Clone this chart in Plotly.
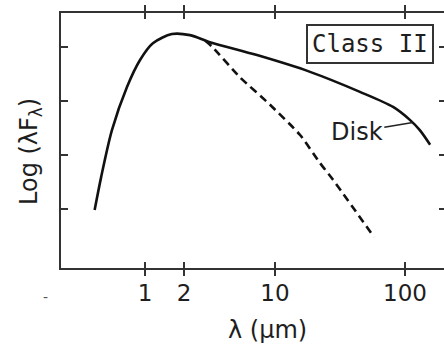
import plotly.graph_objects as go

# Spectral energy distribution of a Class II source (log lambda*F_lambda vs wavelength)
lam_total = [0.41, 0.46, 0.557, 0.727, 0.916, 1.15, 1.61, 2.22, 3.16, 7.27, 18.6, 45, 81, 109, 130, 156]
logf_total = [0.98, 1.59, 2.46, 3.26, 3.76, 4.07, 4.24, 4.22, 4.09, 3.85, 3.54, 3.17, 2.89, 2.65, 2.46, 2.19]

# Stellar photosphere alone (dashed)
lam_star = [2.9, 3.3, 5.38, 9.16, 15.6, 22.2, 27.4, 57.8]
logf_star = [4.12, 4.0, 3.44, 2.93, 2.37, 1.85, 1.57, 0.48]

x_tickvals = [1, 2, 10, 100]
x_ticktext = ["1", "2", "10", "100"]
y_tickvals = [1, 2, 3, 4]

x_range = [-0.646, 2.300]
y_range = [-0.093, 4.63]

ink = "#111111"
axis_col = "#333333"
text_col = "#1e1e1e"
font_main = "DejaVu Sans"

fig = go.Figure()
fig.add_trace(go.Scatter(
    x=lam_total, y=logf_total, mode="lines",
    line=dict(color=ink, width=2.6, shape="spline", smoothing=0.8),
    hoverinfo="skip", showlegend=False,
))
fig.add_trace(go.Scatter(
    x=lam_star, y=logf_star, mode="lines",
    line=dict(color=ink, width=2.6, dash="8px,5px", shape="spline", smoothing=0.6),
    hoverinfo="skip", showlegend=False,
))
# empty trace so the right-hand tick axis is drawn
fig.add_trace(go.Scatter(x=[None], y=[None], yaxis="y2", mode="lines",
                         showlegend=False, hoverinfo="skip"))

fig.update_layout(
    width=444, height=349,
    margin=dict(l=61, r=0, t=13, b=81),
    paper_bgcolor="white", plot_bgcolor="white",
    font=dict(family=font_main, color=text_col),
    xaxis=dict(
        type="log", range=x_range,
        tickvals=x_tickvals, ticktext=x_ticktext,
        ticks="inside", ticklen=6, tickwidth=2, tickcolor=axis_col,
        showline=True, linecolor=axis_col, linewidth=2, mirror="allticks",
        showgrid=False, zeroline=False,
        tickfont=dict(size=23, family=font_main, color=text_col),
        ticklabelstandoff=3,
    ),
    yaxis=dict(
        range=y_range, tickvals=y_tickvals, showticklabels=False,
        ticks="inside", ticklen=7, tickwidth=2, tickcolor=axis_col,
        showline=True, linecolor=axis_col, linewidth=2, mirror=False,
        showgrid=False, zeroline=False,
    ),
    yaxis2=dict(
        range=y_range, tickvals=y_tickvals, showticklabels=False,
        overlaying="y", side="right",
        ticks="inside", ticklen=5, tickwidth=2, tickcolor=axis_col,
        showline=False, showgrid=False, zeroline=False,
    ),
)

annotations = [
    # class label box
    dict(text="Class II", xref="paper", yref="paper", x=(370 - 61) / 383, y=(268 - 44) / 255,
         xanchor="center", yanchor="middle", showarrow=False,
         font=dict(family="DejaVu Sans Mono", size=24, color=text_col),
         bordercolor="#333333", borderwidth=2, borderpad=4, bgcolor="white"),
    # disk component label with leader line to the curve
    dict(text="Disk", x=2.06, y=2.60, xref="x", yref="y",
         ax=-56, ay=9, showarrow=True, arrowhead=0, arrowwidth=1.5, arrowcolor="#222222",
         standoff=0, font=dict(family=font_main, size=24, color=text_col)),
    # axis titles
    dict(text="\u03bb (\u00b5m)", xref="paper", yref="paper", x=(267 - 61) / 383, y=0,
         yshift=-62, xanchor="center", yanchor="middle", showarrow=False,
         font=dict(family=font_main, size=24, color=text_col)),
    dict(text="Log (\u03bbF<sub>\u03bb</sub>)", xref="paper", yref="paper", x=0, y=(268 - 152) / 255,
         xshift=-31, xanchor="center", yanchor="middle", textangle=-90, showarrow=False,
         font=dict(family=font_main, size=24, color=text_col)),
    dict(text="-", xref="paper", yref="paper", x=0, y=0, xshift=-16, yshift=-29,
         xanchor="center", yanchor="middle", showarrow=False,
         font=dict(family=font_main, size=14, color="#555555")),
]
fig.update_layout(annotations=annotations)

fig.write_html("out.html")
